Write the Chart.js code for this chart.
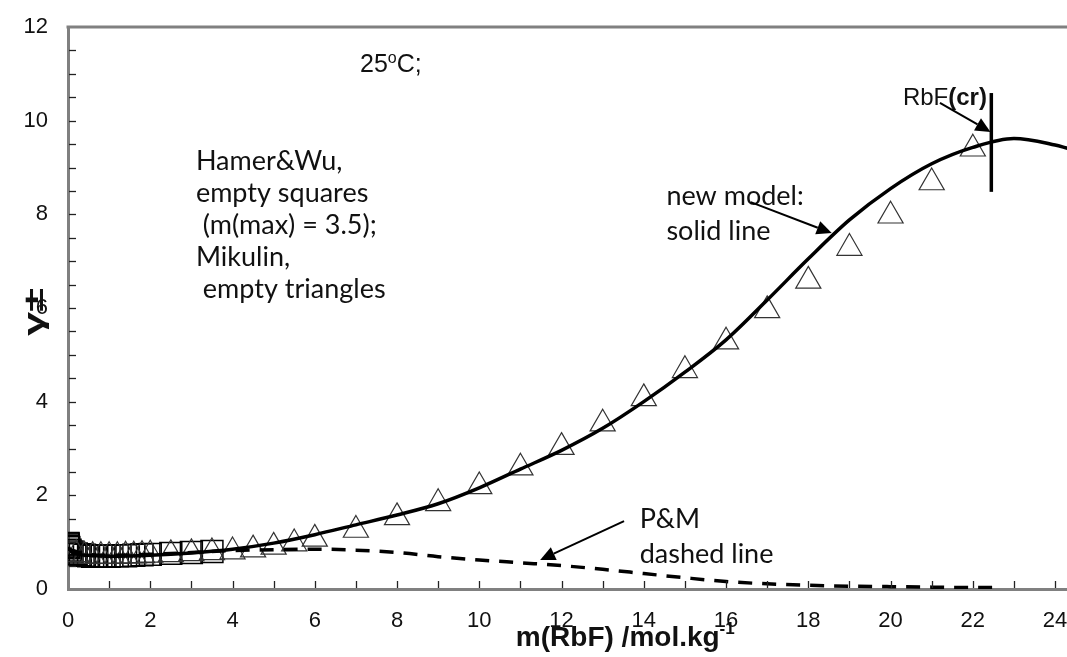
<!DOCTYPE html>
<html><head><meta charset="utf-8">
<script src="https://cdn.jsdelivr.net/npm/chart.js@4.4.0/dist/chart.umd.min.js"></script>
<style>html,body{margin:0;padding:0;background:#fff;overflow:hidden}#wrap{width:1067px;height:657px}</style>
</head><body><div id="wrap"><canvas id="c" width="1067" height="657"></canvas></div>
<script>
// ---- data ----
const hwM = [0.001,0.002,0.005,0.01,0.02,0.05,0.1,0.2,0.3,0.4,0.5,0.6,0.7,0.8,0.9,1.0,1.2,1.4,1.6,1.8,2.0,2.5,3.0,3.5];
const hwG = [0.97,0.96,0.94,0.91,0.88,0.83,0.79,0.75,0.73,0.72,0.71,0.70,0.70,0.70,0.70,0.70,0.71,0.71,0.72,0.73,0.74,0.76,0.78,0.80];

const mkM = [0.2,0.4,0.6,0.8,1.0,1.2,1.4,1.6,1.8,2.0,2.5,3.0,3.5,4.0,4.5,5.0,5.5,6,7,8,9,10,11,12,13,14,15,16,17,18,19,20,21,22];
const mkG = [0.74,0.71,0.70,0.70,0.70,0.70,0.71,0.71,0.72,0.73,0.74,0.76,0.78,0.80,0.84,0.90,0.97,1.07,1.26,1.53,1.83,2.19,2.59,3.03,3.53,4.07,4.67,5.28,5.95,6.58,7.28,7.97,8.68,9.40];

const newM = [0.01,0.1,0.5,1,2,3,4,5,6,7,8,9,10,11,12,13,14,15,16,17,18,19,20,21,22,23,24,24.3];
const newG = [0.90,0.78,0.72,0.70,0.72,0.77,0.85,0.98,1.16,1.37,1.58,1.82,2.16,2.56,2.96,3.43,4.00,4.63,5.32,6.17,7.05,7.88,8.55,9.08,9.43,9.62,9.48,9.41];

const pmM = [0.01,0.5,1,2,3,4,5,6,7,8,9,10,11,12,13,14,15,16,17,18,19,20,21,22,22.5];
const pmG = [0.85,0.74,0.72,0.74,0.78,0.82,0.84,0.85,0.83,0.78,0.69,0.62,0.56,0.50,0.42,0.33,0.24,0.16,0.11,0.08,0.06,0.05,0.04,0.03,0.03];

const xTickLabels = [0,2,4,6,8,10,12,14,16,18,20,22,24];
const yTickLabels = [0,2,4,6,8,10,12];

const pts = (xs, ys) => xs.map((x, i) => ({x, y: ys[i]}));

// ---- annotations (data units) ----
const notes = {
  temp: {x: 7.1, y: 11.04},
  left: {x: 3.11, y: 8.95, gap: 32, lines: ['Hamer&Wu,', 'empty squares', ' (m(max) = 3.5);', 'Mikulin,', ' empty triangles']},
  model: {x: 14.55, y: 8.20, gap: 35, lines: ['new model:', 'solid line'], arrow: [16.6, 8.26, 18.57, 7.60]},
  pm: {x: 13.9, y: 1.30, gap: 35, lines: ['P&M', 'dashed line'], arrow: [13.52, 1.45, 11.48, 0.62]},
  cr: {x: 20.3, y: 10.34, vline: [22.45, 10.59, 8.48], arrow: [21.2, 10.38, 22.43, 9.76]},
  xTitle: {x: 13.55},
};

const SANS = '"Liberation Sans", Arial, sans-serif';
const HUM = 'Lato, "Open Sans", sans-serif';

function arrow(ctx, x1, y1, x2, y2) {
  ctx.save();
  ctx.strokeStyle = '#000'; ctx.fillStyle = '#000'; ctx.lineWidth = 2;
  const a = Math.atan2(y2 - y1, x2 - x1), L = 15, W = 7;
  const bx = x2 - L * Math.cos(a), by = y2 - L * Math.sin(a);
  ctx.beginPath(); ctx.moveTo(x1, y1); ctx.lineTo(bx, by); ctx.stroke();
  ctx.beginPath();
  ctx.moveTo(x2, y2);
  ctx.lineTo(bx + W * Math.sin(a), by - W * Math.cos(a));
  ctx.lineTo(bx - W * Math.sin(a), by + W * Math.cos(a));
  ctx.closePath(); ctx.fill();
  ctx.restore();
}

const decor = {
  id: 'decor',
  afterDatasetsDraw(chart) {
    const {ctx, chartArea: ca, scales: {x, y}} = chart;
    ctx.save();
    // top frame
    ctx.strokeStyle = '#808080'; ctx.lineWidth = 3;
    ctx.beginPath(); ctx.moveTo(ca.left - 1.5, ca.top); ctx.lineTo(ca.right, ca.top); ctx.stroke();
    // inward ticks
    ctx.strokeStyle = '#222'; ctx.lineWidth = 1.3;
    for (let v = 1; v <= 24; v++) {
      const px = Math.round(x.getPixelForValue(v)) + 0.5;
      ctx.beginPath(); ctx.moveTo(px, ca.bottom - 1); ctx.lineTo(px, ca.bottom - 8); ctx.stroke();
    }
    for (let v = 0.5; v < 12; v += 0.5) {
      const py = Math.round(y.getPixelForValue(v)) + 0.5;
      ctx.beginPath(); ctx.moveTo(ca.left + 1, py); ctx.lineTo(ca.left + 8, py); ctx.stroke();
    }
    ctx.fillStyle = '#111';
    // tick labels
    ctx.font = '22px ' + SANS;
    ctx.textAlign = 'center'; ctx.textBaseline = 'alphabetic';
    xTickLabels.forEach(v => ctx.fillText(String(v), x.getPixelForValue(v), ca.bottom + 38));
    ctx.textAlign = 'right'; ctx.textBaseline = 'middle';
    yTickLabels.forEach(v => ctx.fillText(String(v), ca.left - 20, y.getPixelForValue(v)));
    ctx.textAlign = 'left'; ctx.textBaseline = 'alphabetic';
    // 25oC;
    ctx.font = '25px ' + SANS;
    let tx = x.getPixelForValue(notes.temp.x), ty = y.getPixelForValue(notes.temp.y);
    ctx.fillText('25', tx, ty); tx += ctx.measureText('25').width;
    ctx.font = '16px ' + SANS; ctx.fillText('o', tx, ty - 9); tx += ctx.measureText('o').width;
    ctx.font = '25px ' + SANS; ctx.fillText('C;', tx, ty);
    // humanist text blocks
    ctx.font = '27px ' + HUM;
    const block = (n) => {
      const bx = x.getPixelForValue(n.x), by = y.getPixelForValue(n.y);
      n.lines.forEach((s, i) => ctx.fillText(s, bx, by + i * n.gap));
    };
    block(notes.left); block(notes.model); block(notes.pm);
    const ar = (a) => arrow(ctx, x.getPixelForValue(a[0]), y.getPixelForValue(a[1]), x.getPixelForValue(a[2]), y.getPixelForValue(a[3]));
    ar(notes.model.arrow); ar(notes.pm.arrow);
    // RbF(cr)
    let cx = x.getPixelForValue(notes.cr.x); const cy = y.getPixelForValue(notes.cr.y);
    ctx.font = '24px ' + SANS; ctx.fillText('RbF', cx, cy); cx += ctx.measureText('RbF').width;
    ctx.font = 'bold 24px ' + SANS; ctx.fillText('(cr)', cx, cy);
    ctx.strokeStyle = '#000'; ctx.lineWidth = 3.5;
    const vx = x.getPixelForValue(notes.cr.vline[0]);
    ctx.beginPath(); ctx.moveTo(vx, y.getPixelForValue(notes.cr.vline[1])); ctx.lineTo(vx, y.getPixelForValue(notes.cr.vline[2])); ctx.stroke();
    ar(notes.cr.arrow);
    // x title
    ctx.font = 'bold 28px ' + SANS;
    const main = 'm(RbF) /mol.kg';
    const w1 = ctx.measureText(main).width;
    ctx.font = 'bold 17px ' + SANS;
    const w2 = ctx.measureText('-1').width;
    let sx = x.getPixelForValue(notes.xTitle.x) - (w1 + w2) / 2;
    const sy = 646;
    ctx.font = 'bold 28px ' + SANS; ctx.fillText(main, sx, sy);
    ctx.font = 'bold 17px ' + SANS; ctx.fillText('-1', sx + w1, sy - 12);
    // y title
    ctx.save();
    ctx.translate(35, 312); ctx.rotate(-Math.PI / 2); ctx.scale(1.55, 1);
    ctx.font = 'bold 28px ' + SANS; ctx.textAlign = 'center'; ctx.textBaseline = 'middle';
    ctx.fillText('γ±', 0, 0);
    ctx.restore();
    ctx.restore();
  }
};

new Chart(document.getElementById('c'), {
  type: 'scatter',
  data: {
    datasets: [
      {label: 'new model', data: pts(newM, newG), showLine: true, borderColor: '#000', borderWidth: 3.5,
       pointRadius: 0, cubicInterpolationMode: 'monotone', fill: false},
      {label: 'P&M', data: pts(pmM, pmG), showLine: true, borderColor: '#000', borderWidth: 3.5,
       borderDash: [14, 10], pointRadius: 0, cubicInterpolationMode: 'monotone', fill: false},
      {label: 'Mikulin', data: pts(mkM, mkG), showLine: false, pointStyle: 'triangle', pointRadius: 14.5,
       borderColor: '#333', borderWidth: 1.2, backgroundColor: 'rgba(0,0,0,0)'},
      {label: 'Hamer&Wu', data: pts(hwM, hwG), showLine: false, pointStyle: 'rect', pointRadius: 15.5,
       borderColor: '#000', borderWidth: 1.5, backgroundColor: 'rgba(0,0,0,0)'},
    ]
  },
  options: {
    responsive: false, animation: false, devicePixelRatio: 1,
    layout: {autoPadding: false, padding: {top: 27, right: 0, left: 0, bottom: 0}},
    plugins: {legend: {display: false}, tooltip: {enabled: false}},
    scales: {
      x: {type: 'linear', min: 0, max: 24.29,
          afterBuildTicks: s => { s.ticks = xTickLabels.map(v => ({value: v})); },
          afterFit: s => { s.height = 68; },
          ticks: {display: false},
          grid: {display: false, drawTicks: false},
          border: {color: '#808080', width: 3}},
      y: {type: 'linear', min: 0, max: 12,
          afterBuildTicks: s => { s.ticks = yTickLabels.map(v => ({value: v})); },
          afterFit: s => { s.width = 68; },
          ticks: {display: false},
          grid: {display: false, drawTicks: false},
          border: {color: '#808080', width: 3}}
    }
  },
  plugins: [decor]
});
</script>
</body></html>
